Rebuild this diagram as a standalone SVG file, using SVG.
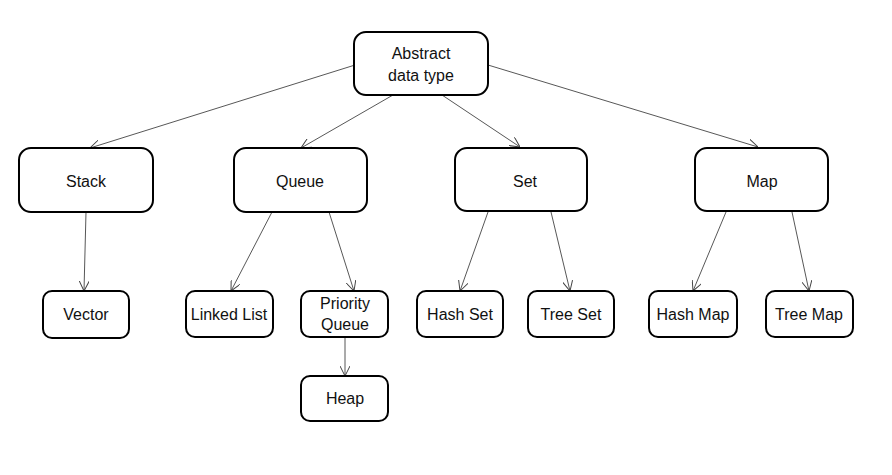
<svg xmlns="http://www.w3.org/2000/svg" width="892" height="475" viewBox="0 0 892 475">
<style>
.box{fill:#fff;stroke:#000;stroke-width:2}
.t{font-family:"Liberation Sans",Arial,sans-serif;font-size:16px;fill:#111;text-anchor:middle}
.c{stroke:#444;stroke-width:0.9;fill:none;marker-end:url(#a)}
</style>
<defs>
<marker id="a" viewBox="0 0 10 10" refX="10" refY="5" markerWidth="10" markerHeight="10" markerUnits="userSpaceOnUse" orient="auto">
<path d="M0,0 L10,5 L0,10" fill="none" stroke="#444" stroke-width="1"/>
</marker>
</defs>
<rect width="892" height="475" fill="#fff"/>
<g id="connectors">
<line class="c" x1="355" y1="65" x2="90" y2="148"/>
<line class="c" x1="393" y1="95" x2="301" y2="148"/>
<line class="c" x1="442" y1="95" x2="520" y2="147"/>
<line class="c" x1="488" y1="65" x2="758" y2="147"/>
<line class="c" x1="86" y1="212" x2="84" y2="291"/>
<line class="c" x1="272" y1="212" x2="231" y2="291"/>
<line class="c" x1="329" y1="212" x2="354" y2="291"/>
<line class="c" x1="345" y1="337" x2="345" y2="376"/>
<line class="c" x1="488" y1="212" x2="460" y2="291"/>
<line class="c" x1="551" y1="212" x2="570" y2="291"/>
<line class="c" x1="726" y1="212" x2="693" y2="291"/>
<line class="c" x1="792" y1="212" x2="809" y2="291"/>
</g>
<g id="adt"><rect class="box" x="354" y="32" width="134" height="63" rx="12"/><text class="t" x="421" y="59">Abstract</text><text class="t" x="421" y="81">data type</text></g>
<g id="stack"><rect class="box" x="19" y="148" width="134" height="64" rx="12"/><text class="t" x="86" y="187">Stack</text></g>
<g id="queue"><rect class="box" x="234" y="148" width="133" height="64" rx="12"/><text class="t" x="300" y="187">Queue</text></g>
<g id="set"><rect class="box" x="455" y="148" width="132" height="63" rx="12"/><text class="t" x="525" y="187">Set</text></g>
<g id="map"><rect class="box" x="695" y="148" width="133" height="63" rx="12"/><text class="t" x="762" y="187">Map</text></g>
<g id="vector"><rect class="box" x="43" y="291" width="86" height="47" rx="9"/><text class="t" x="86" y="320">Vector</text></g>
<g id="linkedlist"><rect class="box" x="186" y="291" width="87" height="46" rx="9"/><text class="t" x="229" y="320">Linked List</text></g>
<g id="pq"><rect class="box" x="301" y="291" width="87" height="46" rx="9"/><text class="t" x="345" y="309">Priority</text><text class="t" x="345" y="330">Queue</text></g>
<g id="heap"><rect class="box" x="301" y="376" width="87" height="45" rx="9"/><text class="t" x="345" y="404">Heap</text></g>
<g id="hashset"><rect class="box" x="417" y="291" width="86" height="46" rx="9"/><text class="t" x="460" y="320">Hash Set</text></g>
<g id="treeset"><rect class="box" x="528" y="291" width="86" height="46" rx="9"/><text class="t" x="571" y="320">Tree Set</text></g>
<g id="hashmap"><rect class="box" x="649" y="291" width="88" height="46" rx="9"/><text class="t" x="693" y="320">Hash Map</text></g>
<g id="treemap"><rect class="box" x="766" y="291" width="87" height="46" rx="9"/><text class="t" x="809" y="320">Tree Map</text></g>
</svg>
